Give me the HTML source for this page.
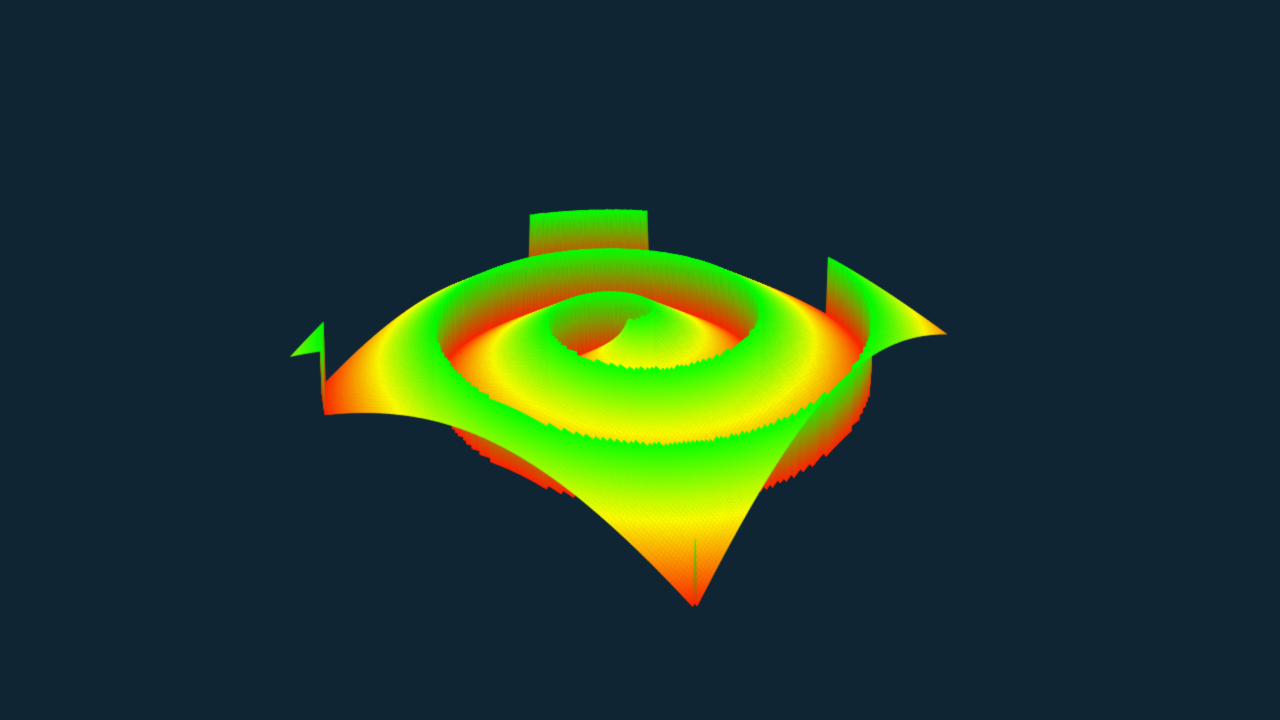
<!DOCTYPE html>
<html><head><meta charset="utf-8"><style>
html,body{margin:0;padding:0;background:#0f2533;width:1280px;height:720px;overflow:hidden}
canvas{display:block}
</style></head><body>
<div style="width:1280px;height:720px">
<canvas id="c" width="1280" height="720"></canvas>
</div>
<script>
// surface parameters (data)
const gridX = [-1, 1];
const gridY = [-1, 1];
const turns = [2.1];
const phase = [0.92];
const colorStops = ['#ff2000', '#ffff00', '#00ff00'];

const cv = document.getElementById('c');
const ctx = cv.getContext('2d');
const N = 160;
const CX = 627, CY = 375, H = 62;
function zf(x, y) {
  const r = Math.sqrt(x * x + y * y);
  const th = Math.atan2(y, x) / (2 * Math.PI);
  let v = th + r * turns[0] + phase[0];
  v = v - Math.floor(v);
  return 1 - v;
}
function depth(x, y) { return (134 * x + 194 * y) / 236; }
function proj(x, y, z) {
  const w = depth(x, y);
  const s = 1 + 0.1 * w;
  const f = Math.max(0, (x + y) / 2);
  const px = CX + s * (194 * x - 134 * y);
  const py = CY + s * (108 * w - H * z + 55 * f * f);
  return [px, py];
}
function col(z) {
  const t = Math.max(0, Math.min(1, z));
  let r, g;
  if (t < 0.5) { r = 255; g = Math.round(32 + (255 - 32) * t * 2); }
  else { r = Math.round(255 * (1 - (t - 0.5) * 2)); g = 255; }
  return `rgb(${r},${g},0)`;
}
const quads = [];
for (let i = 0; i < N; i++) for (let j = 0; j < N; j++) {
  const x0 = gridX[0] + (gridX[1] - gridX[0]) * i / N, x1 = gridX[0] + (gridX[1] - gridX[0]) * (i + 1) / N;
  const y0 = gridY[0] + (gridY[1] - gridY[0]) * j / N, y1 = gridY[0] + (gridY[1] - gridY[0]) * (j + 1) / N;
  const zs = [zf(x0, y0), zf(x1, y0), zf(x1, y1), zf(x0, y1)];
  quads.push({ x0, x1, y0, y1, zs, d: depth((x0 + x1) / 2, (y0 + y1) / 2) });
}
quads.sort((p, q) => p.d - q.d);
for (const q of quads) {
  const pts = [proj(q.x0, q.y0, q.zs[0]), proj(q.x1, q.y0, q.zs[1]), proj(q.x1, q.y1, q.zs[2]), proj(q.x0, q.y1, q.zs[3])];
  const mn = Math.min(...q.zs), mx = Math.max(...q.zs);
  ctx.beginPath();
  ctx.moveTo(pts[0][0], pts[0][1]);
  for (let k = 1; k < 4; k++) ctx.lineTo(pts[k][0], pts[k][1]);
  ctx.closePath();
  if (mx - mn > 0.3) {
    const ys = pts.map(p => p[1]);
    const g = ctx.createLinearGradient(0, Math.max(...ys), 0, Math.min(...ys));
    g.addColorStop(0, colorStops[0]); g.addColorStop(0.55, '#80a000'); g.addColorStop(1, colorStops[2]);
    ctx.fillStyle = g; ctx.strokeStyle = g;
  } else {
    const c = col((q.zs[0] + q.zs[1] + q.zs[2] + q.zs[3]) / 4);
    ctx.fillStyle = c; ctx.strokeStyle = c;
  }
  ctx.lineWidth = 0.6;
  ctx.fill(); ctx.stroke();
}
</script>
</body></html>
